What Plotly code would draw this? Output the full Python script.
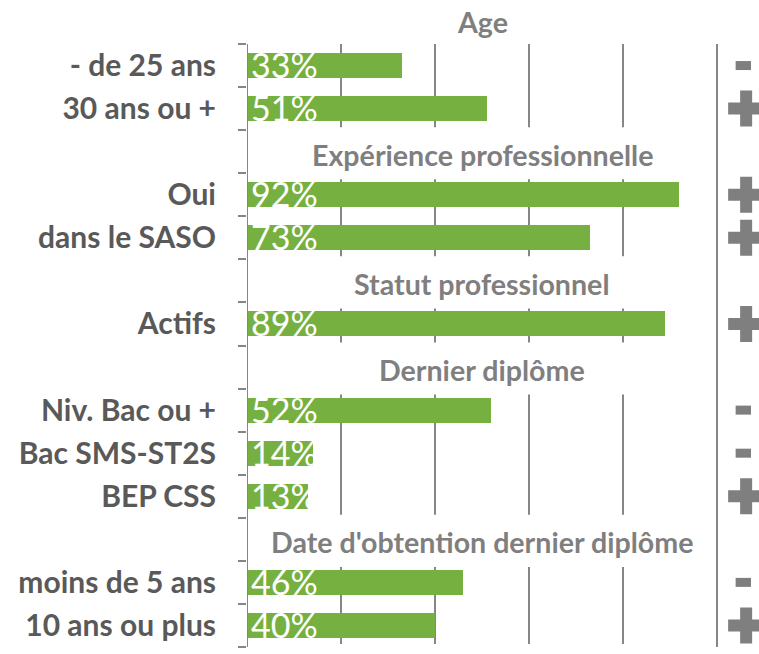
import plotly.graph_objects as go

# Profile shares (%) by group, with the sign of each effect
groups = ["Age", "Expérience professionnelle", "Statut professionnel",
          "Dernier diplôme", "Date d'obtention dernier diplôme"]
group_sizes = [2, 2, 1, 3, 2]
categories = ["- de 25 ans", "30 ans ou +", "Oui", "dans le SASO", "Actifs",
              "Niv. Bac ou +", "Bac SMS-ST2S", "BEP CSS",
              "moins de 5 ans", "10 ans ou plus"]
values = [33, 51, 92, 73, 89, 52, 14, 13, 46, 40]
signs = ["-", "+", "+", "+", "+", "-", "-", "+", "-", "+"]

GREEN = "#76B041"
GRAY = "#868686"
LABEL = "#595959"
HEAD = "#7F7F7F"

W, H = 759, 654
M_L, M_T, M_B = 247, 44, 7
BAR_SPAN_PX = 470          # pixel width of the 0-100 % scale
X_MAX = 100 * (W - M_L) / BAR_SPAN_PX   # extra room on the right for the signs

# Row layout: every group gets a header row followed by its items.
# The first header sits just above the plotting area (row -1).
header_rows, item_rows, group_spans = [], [], []
r = -1
for size in group_sizes:
    header_rows.append(r)
    r += 1
    group_spans.append((r, r + size - 1))
    item_rows.extend(range(r, r + size))
    r += size
n_rows = r
plot_h = H - M_T - M_B

fig = go.Figure()

fig.add_trace(go.Bar(
    x=values, y=item_rows, orientation="h", width=0.58,
    marker=dict(color=GREEN, line=dict(width=0)),
    hoverinfo="skip", showlegend=False,
))

plus_rows = [yr for yr, s in zip(item_rows, signs) if s == "+"]
minus_rows = [yr for yr, s in zip(item_rows, signs) if s == "-"]
fig.add_trace(go.Scatter(
    x=[106.2] * len(plus_rows), y=plus_rows, mode="markers",
    marker=dict(symbol="cross", size=30, color=HEAD, line=dict(width=0)),
    cliponaxis=False, hoverinfo="skip", showlegend=False,
))
fig.add_trace(go.Scatter(
    x=[105.6] * len(minus_rows), y=minus_rows, mode="markers",
    marker=dict(symbol="line-ew", size=11, color=HEAD,
                line=dict(width=9, color=HEAD)),
    cliponaxis=False, hoverinfo="skip", showlegend=False,
))

shapes = []
# vertical grid segments, interrupted by the group headers
for gi, (a, b) in enumerate(group_spans):
    top = a - 0.5 + (0.14 if header_rows[gi] >= 0 else 0)
    bot = b + 0.5 - 0.07
    for gx in (20, 40, 60, 80):
        shapes.append(dict(type="line", xref="x", yref="y", x0=gx, x1=gx,
                           y0=top, y1=bot, layer="below",
                           line=dict(color=GRAY, width=2)))
# left axis line and right frame line at 100 %
for gx in (0, 100):
    shapes.append(dict(type="line", xref="x", yref="y", x0=gx, x1=gx,
                       y0=-0.5, y1=n_rows - 0.5,
                       line=dict(color=GRAY, width=2)))

annotations = []
for v, yr in zip(values, item_rows):
    annotations.append(dict(
        x=0, y=yr, xref="x", yref="y", text=f"{v}%", showarrow=False,
        xanchor="left", yanchor="middle", xshift=2, yshift=1,
        font=dict(family="Lato", size=34, color="white"),
    ))
for g, hr in zip(groups, header_rows):
    if hr < 0:
        yref, yv, ys = "paper", 1 + (0 - hr - 0.5) * (plot_h / n_rows) / plot_h, 0
    else:
        yref, yv, ys = "y", hr, -3
    annotations.append(dict(
        x=50, y=yv, xref="x", yref=yref, text=g, showarrow=False,
        xanchor="center", yanchor="middle", yshift=ys,
        font=dict(family="Lato", size=28.6, color=HEAD, weight="bold"),
    ))

fig.update_layout(
    width=W, height=H,
    margin=dict(l=M_L, r=0, t=M_T, b=M_B),
    paper_bgcolor="white", plot_bgcolor="white",
    bargap=0, showlegend=False,
    shapes=shapes, annotations=annotations,
    xaxis=dict(range=[0, X_MAX], showgrid=False, zeroline=False,
               showticklabels=False, ticks="", fixedrange=True),
    yaxis=dict(
        range=[n_rows - 0.5, -0.5], showgrid=False, zeroline=False,
        tickmode="array", tickvals=item_rows, ticktext=categories,
        ticks="", ticklabelstandoff=30,
        tickfont=dict(family="Lato", size=30, color=LABEL, weight="bold"),
        showline=False,
        minor=dict(tickmode="array",
                   tickvals=[i - 0.5 for i in range(n_rows + 1)],
                   ticks="outside", ticklen=8, tickwidth=2, tickcolor=GRAY,
                   showgrid=False),
    ),
)

fig.write_html("out.html")
